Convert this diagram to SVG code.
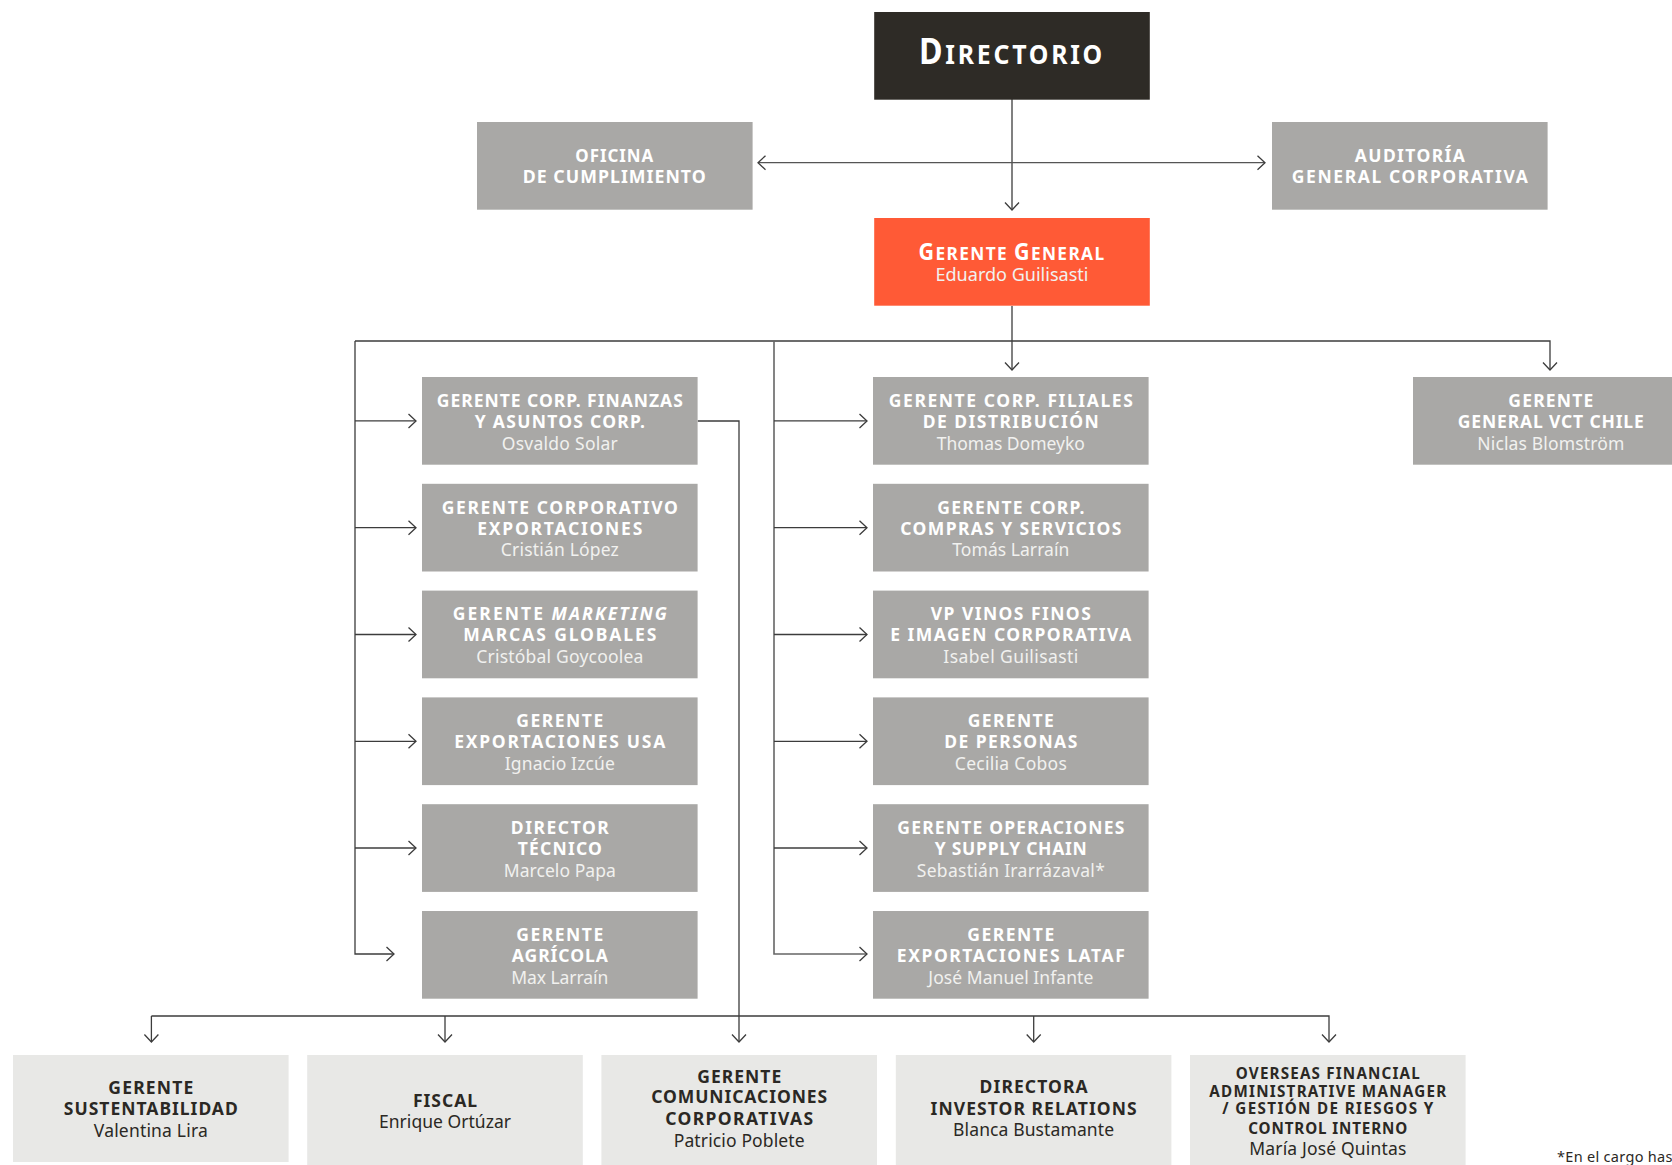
<svg xmlns="http://www.w3.org/2000/svg" width="1672" height="1165" viewBox="0 0 1672 1165">
<defs>
<style>
.bx{fill:#a9a8a6}
.lt{fill:#e8e8e6}
.t{font-family:"Noto Sans","Open Sans","Liberation Sans",sans-serif;font-weight:700;font-size:17.5px;fill:#ffffff;text-anchor:middle}
.n{font-family:"Noto Sans","Open Sans","Liberation Sans",sans-serif;font-weight:400;font-size:17.5px;fill:#f1f1ef;text-anchor:middle}
.dt{font-family:"Noto Sans","Open Sans","Liberation Sans",sans-serif;font-weight:700;font-size:17.5px;fill:#2b2824;text-anchor:middle}
.dn{font-family:"Noto Sans","Open Sans","Liberation Sans",sans-serif;font-weight:400;font-size:17.5px;fill:#2b2824;text-anchor:middle}
.sm{font-size:15.2px}
</style>
<marker id="ah" markerUnits="userSpaceOnUse" markerWidth="16" markerHeight="16" refX="8" refY="8" orient="auto-start-reverse" viewBox="0 0 16 16"><path d="M0.5,1 L8,8 L0.5,15" fill="none" stroke="#3c3c3c" stroke-width="1.3"/></marker>
</defs>
<rect width="1672" height="1165" fill="#ffffff"/>

<g id="connectors" fill="none" stroke="#3c3c3c" stroke-width="1.3">
<path d="M1012,99V210" marker-end="url(#ah)"/>
<path d="M758,162.7H1265" stroke="#555" marker-start="url(#ah)" marker-end="url(#ah)"/>
<path d="M1012,306V370" marker-end="url(#ah)"/>
<path d="M355,341H1550V370" marker-end="url(#ah)"/>
<path d="M355,341V954H394" marker-end="url(#ah)"/>
<path d="M355,420.9H416" marker-end="url(#ah)"/>
<path d="M355,527.7H416" marker-end="url(#ah)"/>
<path d="M355,634.5H416" marker-end="url(#ah)"/>
<path d="M355,741.3H416" marker-end="url(#ah)"/>
<path d="M355,848H416" marker-end="url(#ah)"/>
<path d="M774,341V954H867" stroke="#666" stroke-width="1.6" marker-end="url(#ah)"/>
<path d="M774,420.9H867" marker-end="url(#ah)"/>
<path d="M774,527.7H867" marker-end="url(#ah)"/>
<path d="M774,634.5H867" marker-end="url(#ah)"/>
<path d="M774,741.3H867" marker-end="url(#ah)"/>
<path d="M774,848H867" marker-end="url(#ah)"/>
<path d="M697.7,421H739V1042" marker-end="url(#ah)"/>
<path d="M151.4,1016H1329V1042" marker-end="url(#ah)"/>
<path d="M151.4,1016V1042" marker-end="url(#ah)"/>
<path d="M445,1016V1042" marker-end="url(#ah)"/>
<path d="M1033.7,1016V1042" marker-end="url(#ah)"/>
</g>

<g id="directorio">
<rect x="874.2" y="12" width="275.6" height="87.7" fill="#2e2b26"/>
<text x="1012" y="64" class="t" letter-spacing="3" textLength="186" lengthAdjust="spacingAndGlyphs"><tspan font-size="35">D</tspan><tspan font-size="27">IRECTORIO</tspan></text>
</g>

<g id="oficina">
<rect x="477" y="122" width="275.6" height="87.7" class="bx"/>
<text x="614.8" y="162.3" class="t" font-size="18.5" letter-spacing="1" textLength="79" lengthAdjust="spacingAndGlyphs">OFICINA</text>
<text x="614.8" y="183.3" class="t" font-size="18.5" letter-spacing="1" textLength="184" lengthAdjust="spacingAndGlyphs">DE CUMPLIMIENTO</text>
</g>

<g id="auditoria">
<rect x="1272" y="122" width="275.6" height="87.7" class="bx"/>
<text x="1409.8" y="162.3" class="t" textLength="110">AUDITORÍA</text>
<text x="1409.8" y="182.7" class="t" textLength="236">GENERAL CORPORATIVA</text>
</g>

<g id="gerente-general">
<rect x="874.2" y="218" width="275.6" height="87.7" fill="#ff5a36"/>
<text x="1012" y="260" class="t" letter-spacing="1.5" textLength="187" lengthAdjust="spacingAndGlyphs"><tspan font-size="23">G</tspan><tspan font-size="18.5">ERENTE </tspan><tspan font-size="23">G</tspan><tspan font-size="18.5">ENERAL</tspan></text>
<text x="1012" y="281" class="n" font-size="20" fill="#ffffff" textLength="153" lengthAdjust="spacingAndGlyphs">Eduardo Guilisasti</text>
</g>

<g id="vct-chile">
<rect x="1413" y="377" width="275.6" height="87.7" class="bx"/>
<text x="1550.8" y="406.7" class="t" textLength="85">GERENTE</text>
<text x="1550.8" y="427.7" class="t" textLength="186">GENERAL VCT CHILE</text>
<text x="1550.8" y="449.5" class="n" textLength="147">Niclas Blomström</text>
</g>

<g id="finanzas">
<rect x="422" y="377" width="275.6" height="87.7" class="bx"/>
<text x="559.8" y="406.7" class="t" textLength="246">GERENTE CORP. FINANZAS</text>
<text x="559.8" y="427.7" class="t" textLength="170">Y ASUNTOS CORP.</text>
<text x="559.8" y="449.5" class="n" textLength="116">Osvaldo Solar</text>
</g>

<g id="exportaciones">
<rect x="422" y="483.8" width="275.6" height="87.7" class="bx"/>
<text x="559.8" y="513.5" class="t" textLength="236">GERENTE CORPORATIVO</text>
<text x="559.8" y="534.5" class="t" textLength="165">EXPORTACIONES</text>
<text x="559.8" y="556.3" class="n" textLength="118">Cristián López</text>
</g>

<g id="marketing">
<rect x="422" y="590.6" width="275.6" height="87.7" class="bx"/>
<text x="559.8" y="620.3" class="t" textLength="214">GERENTE <tspan font-style="italic">MARKETING</tspan></text>
<text x="559.8" y="641.3" class="t" textLength="193">MARCAS GLOBALES</text>
<text x="559.8" y="663.1" class="n" textLength="167">Cristóbal Goycoolea</text>
</g>

<g id="exportaciones-usa">
<rect x="422" y="697.4" width="275.6" height="87.7" class="bx"/>
<text x="559.8" y="727.1" class="t" textLength="87">GERENTE</text>
<text x="559.8" y="748.1" class="t" textLength="211">EXPORTACIONES USA</text>
<text x="559.8" y="769.9" class="n" textLength="110">Ignacio Izcúe</text>
</g>

<g id="director-tecnico">
<rect x="422" y="804.2" width="275.6" height="87.7" class="bx"/>
<text x="559.8" y="833.9" class="t" textLength="98">DIRECTOR</text>
<text x="559.8" y="854.9" class="t" textLength="84">TÉCNICO</text>
<text x="559.8" y="876.7" class="n" textLength="112">Marcelo Papa</text>
</g>

<g id="agricola">
<rect x="422" y="911" width="275.6" height="87.7" class="bx"/>
<text x="559.8" y="940.7" class="t" textLength="87">GERENTE</text>
<text x="559.8" y="961.7" class="t" textLength="96">AGRÍCOLA</text>
<text x="559.8" y="983.5" class="n" textLength="97">Max Larraín</text>
</g>

<g id="filiales">
<rect x="873" y="377" width="275.6" height="87.7" class="bx"/>
<text x="1010.8" y="406.7" class="t" textLength="244">GERENTE CORP. FILIALES</text>
<text x="1010.8" y="427.7" class="t" textLength="176">DE DISTRIBUCIÓN</text>
<text x="1010.8" y="449.5" class="n" textLength="148">Thomas Domeyko</text>
</g>

<g id="compras">
<rect x="873" y="483.8" width="275.6" height="87.7" class="bx"/>
<text x="1010.8" y="513.5" class="t" textLength="147">GERENTE CORP.</text>
<text x="1010.8" y="534.5" class="t" textLength="221">COMPRAS Y SERVICIOS</text>
<text x="1010.8" y="556.3" class="n" textLength="117">Tomás Larraín</text>
</g>

<g id="vinos-finos">
<rect x="873" y="590.6" width="275.6" height="87.7" class="bx"/>
<text x="1010.8" y="620.3" class="t" textLength="160">VP VINOS FINOS</text>
<text x="1010.8" y="641.3" class="t" textLength="241">E IMAGEN CORPORATIVA</text>
<text x="1010.8" y="663.1" class="n" textLength="135">Isabel Guilisasti</text>
</g>

<g id="personas">
<rect x="873" y="697.4" width="275.6" height="87.7" class="bx"/>
<text x="1010.8" y="727.1" class="t" textLength="86">GERENTE</text>
<text x="1010.8" y="748.1" class="t" textLength="133">DE PERSONAS</text>
<text x="1010.8" y="769.9" class="n" textLength="112">Cecilia Cobos</text>
</g>

<g id="operaciones">
<rect x="873" y="804.2" width="275.6" height="87.7" class="bx"/>
<text x="1010.8" y="833.9" class="t" textLength="227">GERENTE OPERACIONES</text>
<text x="1010.8" y="854.9" class="t" textLength="152">Y SUPPLY CHAIN</text>
<text x="1010.8" y="876.7" class="n" textLength="188">Sebastián Irarrázaval*</text>
</g>

<g id="lataf">
<rect x="873" y="911" width="275.6" height="87.7" class="bx"/>
<text x="1010.8" y="940.7" class="t" textLength="87">GERENTE</text>
<text x="1010.8" y="961.7" class="t" textLength="228">EXPORTACIONES LATAF</text>
<text x="1010.8" y="983.5" class="n" textLength="165">José Manuel Infante</text>
</g>

<g id="sustentabilidad">
<rect x="13" y="1055" width="275.6" height="107" class="lt"/>
<text x="150.8" y="1094" class="dt" textLength="85">GERENTE</text>
<text x="150.8" y="1115" class="dt" textLength="174">SUSTENTABILIDAD</text>
<text x="150.8" y="1136.7" class="dn" textLength="114">Valentina Lira</text>
</g>

<g id="fiscal">
<rect x="307.2" y="1055" width="275.6" height="112" class="lt"/>
<text x="445" y="1107.3" class="dt" textLength="64">FISCAL</text>
<text x="445" y="1128.3" class="dn" textLength="132">Enrique Ortúzar</text>
</g>

<g id="comunicaciones">
<rect x="601.4" y="1055" width="275.6" height="112" class="lt"/>
<text x="739.2" y="1082.7" class="dt" textLength="84">GERENTE</text>
<text x="739.2" y="1103.3" class="dt" textLength="176">COMUNICACIONES</text>
<text x="739.2" y="1125" class="dt" textLength="148">CORPORATIVAS</text>
<text x="739.2" y="1146.7" class="dn" textLength="131">Patricio Poblete</text>
</g>

<g id="investor-relations">
<rect x="895.8" y="1055" width="275.6" height="112" class="lt"/>
<text x="1033.6" y="1093.3" class="dt" textLength="108">DIRECTORA</text>
<text x="1033.6" y="1115" class="dt" textLength="206">INVESTOR RELATIONS</text>
<text x="1033.6" y="1136" class="dn" textLength="161">Blanca Bustamante</text>
</g>

<g id="overseas">
<rect x="1190" y="1055" width="275.6" height="112" class="lt"/>
<text x="1327.8" y="1079.3" class="dt sm" textLength="184">OVERSEAS FINANCIAL</text>
<text x="1327.8" y="1096.7" class="dt sm" textLength="237">ADMINISTRATIVE MANAGER</text>
<text x="1327.8" y="1114" class="dt sm" textLength="211">/ GESTIÓN DE RIESGOS Y</text>
<text x="1327.8" y="1134" class="dt sm" textLength="159">CONTROL INTERNO</text>
<text x="1327.8" y="1155" class="dn" textLength="157">María José Quintas</text>
</g>

<text x="1557" y="1162" font-family="'Noto Sans','Open Sans','Liberation Sans',sans-serif" font-size="14.5" fill="#2b2824" letter-spacing="0.3">*En el cargo has</text>
</svg>
